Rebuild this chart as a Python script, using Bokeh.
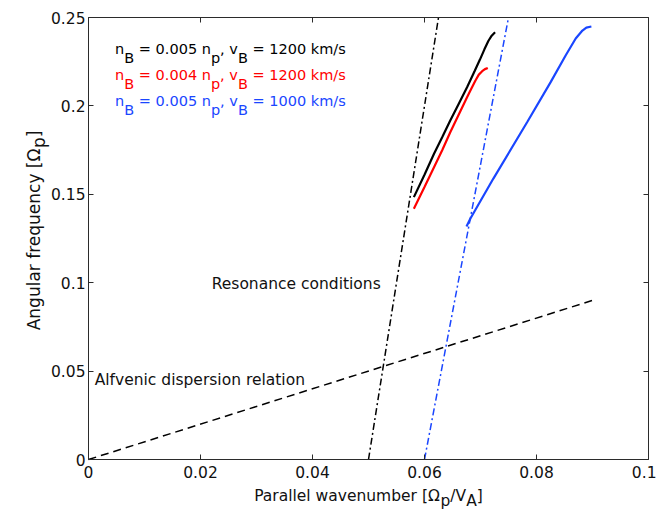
import math
from bokeh.plotting import figure
from bokeh.models import Label, LinearAxis, Range1d, FixedTicker, CustomJSTickFormatter
from bokeh.embed import file_html
from bokeh.resources import INLINE

# ---------------- data ----------------
x_ticks = [0, 0.02, 0.04, 0.06, 0.08, 0.1]
x_tick_labels = ["0", "0.02", "0.04", "0.06", "0.08", "0.1"]
y_ticks = [0, 0.05, 0.1, 0.15, 0.2, 0.25]
y_tick_labels = ["0", "0.05", "0.1", "0.15", "0.2", "0.25"]
x_lim = (0.0, 0.1)
y_lim = (0.0, 0.25)

# Alfvenic dispersion relation (omega = k)
alfven_k = [0.0, 0.09]
alfven_w = [0.0, 0.09]

# resonance conditions
res_black_k = [0.050, 0.0625]
res_black_w = [0.0, 0.25]
res_blue_k = [0.060, 0.075]
res_blue_w = [0.0, 0.25]

# n_B = 0.005 n_p, v_B = 1200 km/s
black_k = [0.0581, 0.0600, 0.0617, 0.0632, 0.0646, 0.0661, 0.0676, 0.0690, 0.0699, 0.0707, 0.0714, 0.0720, 0.0726]
black_w = [0.1484, 0.1611, 0.1729, 0.1825, 0.1917, 0.2011, 0.2106, 0.2200, 0.2262, 0.2320, 0.2367, 0.2397, 0.2417]

# n_B = 0.004 n_p, v_B = 1200 km/s
red_k = [0.0581, 0.0600, 0.0617, 0.0632, 0.0646, 0.0661, 0.0676, 0.0684, 0.0691, 0.0697, 0.0703, 0.0708, 0.0713]
red_w = [0.1418, 0.1541, 0.1653, 0.1752, 0.1851, 0.1950, 0.2049, 0.2100, 0.2144, 0.2177, 0.2196, 0.2208, 0.2215]

# n_B = 0.005 n_p, v_B = 1000 km/s
blue_k = [0.0675, 0.0682, 0.0723, 0.0784, 0.0825, 0.0852, 0.0870, 0.0882, 0.0889, 0.0898]
blue_w = [0.1318, 0.1363, 0.1589, 0.1912, 0.2133, 0.2285, 0.2381, 0.2426, 0.2443, 0.2449]

legend_texts = [
    [("n", 0), ("B", 1), (" = 0.005 n", 0), ("p", 1), (", v", 0), ("B", 1), (" = 1200 km/s", 0)],
    [("n", 0), ("B", 1), (" = 0.004 n", 0), ("p", 1), (", v", 0), ("B", 1), (" = 1200 km/s", 0)],
    [("n", 0), ("B", 1), (" = 0.005 n", 0), ("p", 1), (", v", 0), ("B", 1), (" = 1000 km/s", 0)],
]
BLACK = "#000000"
RED = "#ff0000"
BLUE = "#1a46ff"
legend_colors = [BLACK, RED, BLUE]

# ---------------- text helper ----------------
FONT = "DejaVu Sans"
W = {' ': 0.318, ',': 0.318, '.': 0.318, '/': 0.337, '=': 0.838, '[': 0.390, ']': 0.390,
     'A': 0.684, 'B': 0.686, 'P': 0.603, 'R': 0.695, 'V': 0.684, 'a': 0.613, 'b': 0.635,
     'c': 0.550, 'd': 0.635, 'e': 0.615, 'f': 0.352, 'g': 0.635, 'i': 0.278, 'k': 0.579,
     'l': 0.278, 'm': 0.974, 'n': 0.634, 'o': 0.612, 'p': 0.635, 'q': 0.635, 'r': 0.411,
     's': 0.521, 't': 0.392, 'u': 0.634, 'v': 0.592, 'w': 0.818, 'y': 0.592, '\u03a9': 0.764}


def tw(s, size):
    return sum(W.get(c, 0.636 if c.isdigit() else 0.6) for c in s) * size


def rich(p, pieces, x, y, size, color, drop, dx=0.0, dy=0.0, angle=0.0, center=False):
    total = sum(tw(s, size) for s, _ in pieces)
    cum = -total / 2 if center else 0.0
    for s, sub in pieces:
        lead = len(s) - len(s.lstrip(" "))
        txt = s.strip(" ")
        pos = cum + tw(" " * lead, size)
        if angle == 0:
            xo, yo = dx + pos, dy - (drop if sub else 0)
        else:
            xo, yo = dx + (drop if sub else 0), dy + pos
        p.add_layout(Label(x=x, y=y, x_offset=xo, y_offset=yo, text=txt, angle=angle,
                           text_font=FONT, text_font_size=f"{size}px", text_color=color,
                           text_baseline="alphabetic", text_align="left"))
        cum += tw(s, size)


# ---------------- figure ----------------
# frame covers the whole canvas; plot box at px 88..648 (x) and 17..459 (y)
W_PX, H_PX = 656, 512
XS = 560 / (x_lim[1] - x_lim[0])
YS = 442 / (y_lim[1] - y_lim[0])
x0 = x_lim[0] - 88 / XS
y0 = y_lim[0] - 53 / YS
p = figure(width=W_PX, height=H_PX, title=None,
           x_range=Range1d(x0, x0 + W_PX / XS), y_range=Range1d(y0, y0 + H_PX / YS),
           output_backend="svg", toolbar_location=None,
           min_border=0, min_border_left=0, min_border_right=0, min_border_top=0, min_border_bottom=0)
p.grid.visible = False
p.outline_line_color = None
p.background_fill_color = "white"
p.border_fill_color = "white"

AXC = "#2b2b2b"


def style_axis(ax, ticker_vals, bounds, loc):
    ax.ticker = FixedTicker(ticks=ticker_vals)
    ax.bounds = bounds
    ax.fixed_location = loc
    ax.major_tick_in = 5
    ax.major_tick_out = 0
    ax.minor_tick_in = 0
    ax.minor_tick_out = 0
    ax.axis_line_color = AXC
    ax.major_tick_line_color = AXC
    ax.axis_line_width = 1
    ax.major_label_text_font = FONT
    ax.major_label_text_font_size = "15.5px"
    ax.major_label_text_color = "#111111"


style_axis(p.xaxis[0], x_ticks, x_lim, y_lim[0])
p.xaxis[0].major_label_overrides = {t: l for t, l in zip(x_ticks, x_tick_labels)}
p.xaxis[0].major_label_standoff = 6
style_axis(p.yaxis[0], y_ticks, y_lim, x_lim[0])
p.yaxis[0].major_label_overrides = {t: l for t, l in zip(y_ticks, y_tick_labels)}
p.yaxis[0].major_label_standoff = 3

blank = CustomJSTickFormatter(code="return ''")
top = LinearAxis(formatter=blank)
style_axis(top, x_ticks, x_lim, y_lim[1])
top.major_label_standoff = 0
p.add_layout(top, "above")
right = LinearAxis(formatter=blank)
style_axis(right, y_ticks, y_lim, x_lim[1])
right.major_label_standoff = 0
p.add_layout(right, "right")

# lines
p.line(alfven_k, alfven_w, line_color=BLACK, line_width=1.5, line_dash="8 5")
p.line(res_black_k, res_black_w, line_color=BLACK, line_width=1.5, line_dash="7 3 2 3")
p.line(res_blue_k, res_blue_w, line_color=BLUE, line_width=1.5, line_dash="7 3 2 3")
p.line(black_k, black_w, line_color=BLACK, line_width=2.2)
p.line(red_k, red_w, line_color=RED, line_width=2.2)
p.line(blue_k, blue_w, line_color=BLUE, line_width=2.2)

# legend-like annotations
leg_y = [0.2295, 0.2148, 0.1997]
for pieces, col, yy in zip(legend_texts, legend_colors, leg_y):
    rich(p, pieces, 0.00475, yy, 14.5, col, drop=9, dy=5)

rich(p, [("Resonance conditions", 0)], 0.0220, 0.0962, 15.5, "#111111", drop=0, dy=5)
rich(p, [("Alfvenic dispersion relation", 0)], 0.0011, 0.0424, 15.5, "#111111", drop=0, dy=5)

# axis labels
rich(p, [("Parallel wavenumber [\u03a9", 0), ("p", 1), ("/V", 0), ("A", 1), ("]", 0)],
     0.05, 0.0, 15.5, "#111111", drop=5, dy=-36, center=True)
rich(p, [("Angular frequency [\u03a9", 0), ("p", 1), ("]", 0)],
     0.0, 0.125, 17, "#111111", drop=5, dx=-55, dy=8, angle=math.pi / 2, center=True)

open("out.html", "w").write(file_html(p, INLINE))
